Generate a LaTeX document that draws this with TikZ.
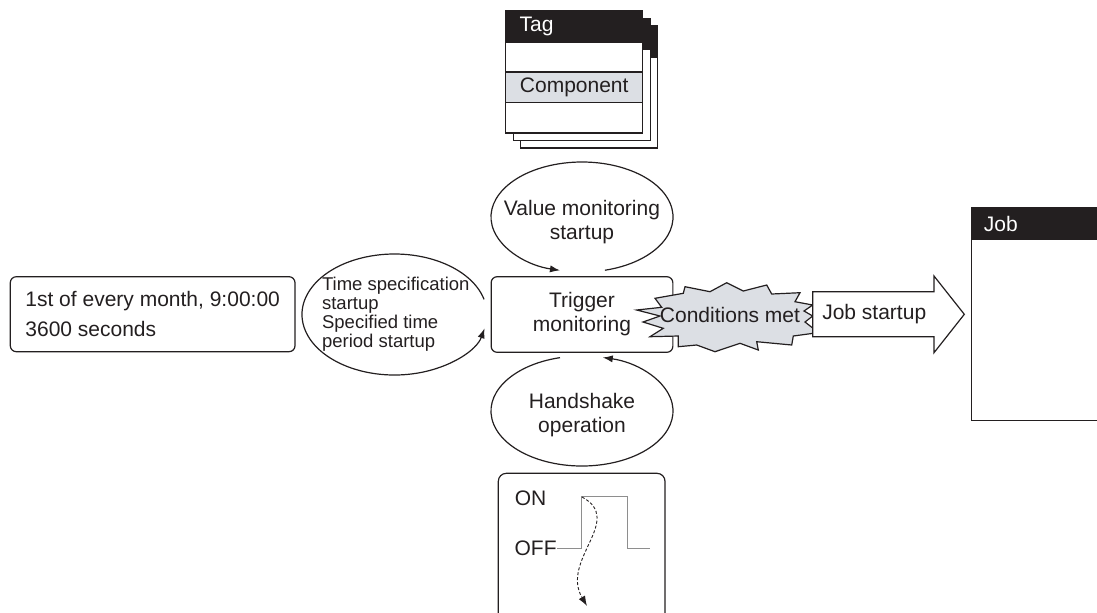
\documentclass[tikz,border=0pt]{standalone}
\usepackage{fontspec}
\setmainfont{Liberation Sans}
\usetikzlibrary{arrows.meta}
\definecolor{ink}{HTML}{231F20}
\definecolor{paleblue}{HTML}{DCDFE4}
\definecolor{wavegray}{HTML}{8E8E8E}
\tikzset{
  lbl/.style={inner sep=0pt, font=\fontsize{10.5}{12}\selectfont},
  small/.style={inner sep=0pt, font=\fontsize{9.25}{9.5}\selectfont},
  box/.style={draw=ink, rounded corners=3pt},
}
\begin{document}
\begin{tikzpicture}[x=0.5pt, y=0.5pt, line width=0.6pt, color=ink, >={Latex[length=5pt,width=3.6pt]}]
            \useasboundingbox (0,0) rectangle (1097,-612);

            \foreach \d in {15,7.5,0} {
                    \draw[fill=white] (505.7+\d,-11-\d) rectangle ++(137,-122);
                    \draw[fill=ink] (505.7+\d,-11-\d) rectangle ++(137,-31);
                }
            \draw[fill=paleblue] (505.7,-72) rectangle (642.7,-102.5);
            \node[lbl, text=white, anchor=west] (tag) at (519,-26.5) {Tag};
            \node[lbl] (component) at (574.2,-87) {Component};

            \coordinate (vc) at (582,-217);
            \draw[->] (vc) ++(284.6:91 and 55) arc[start angle=284.6, end angle=616, x radius=91, y radius=55];
            \node[lbl, align=center] (value) at (582,-222) {Value monitoring\\startup};

            \node[box, lbl, minimum width=90.85pt, minimum height=37.8pt, align=center] (trigger) at (582,-314.5) {Trigger\\monitoring};

            \coordinate (tc) at (394.5,-314.5);
            \draw[->] (tc) ++(14.5:92.5 and 60.5) arc[start angle=14.5, end angle=346.8, x radius=92.5, y radius=60.5];
            \node[small, align=left, anchor=west] (timespec) at (321.5,-314.5) {Time specification\\startup\\Specified time\\period startup};

            \coordinate (hc) at (582,-411);
            \draw[->] (hc) ++(104:91 and 55) arc[start angle=104, end angle=436.8, x radius=91, y radius=55];
            \node[lbl, align=center] (handshake) at (582,-415) {Handshake\\operation};

            \node[box, lbl, font=\fontsize{10.5}{15}\selectfont, align=left, minimum width=142.35pt, minimum height=37.5pt] (schedule) at (152.65,-314.2) {1st of every month, 9:00:00\\3600 seconds};

            \draw[fill=paleblue] (636.7,-310) -- (661.7,-307.3) -- (655,-298.3) -- (683.3,-293.3) -- (685,-286.7)
                -- (710,-291.7) -- (726.7,-282.7) -- (743.3,-291) -- (766.7,-285) -- (771.7,-294)
                -- (800,-292.7) -- (795,-301.7) -- (812.7,-305) -- (804,-311) -- (812.7,-316)
                -- (805,-322) -- (812.7,-328) -- (813.3,-333.3) -- (793.3,-336) -- (791.7,-345)
                -- (756.7,-341.7) -- (758.3,-350) -- (740,-343.3) -- (715,-351.7) -- (696.7,-345)
                -- (678.3,-346.7) -- (678.3,-336) -- (650,-336.7) -- (663.3,-328.3) -- (643,-322)
                -- (660,-316) -- cycle;
            \node[lbl] (conditions) at (730,-315) {Conditions met};

            \draw[fill=white] (812.7,-291.7) -- (934,-291.7) -- (934,-276) -- (964.3,-314.3)
                -- (934,-352.7) -- (934,-336.7) -- (812.7,-336.7) -- cycle;
            \node[lbl, anchor=west] (jobstartup) at (821.7,-314.3) {Job startup};

            \draw[fill=white] (971.7,-207.7) rectangle (1110,-420.7);
            \draw[fill=ink] (971.7,-207.7) rectangle (1110,-239.3);
            \node[lbl, text=white, anchor=west] (job) at (983.3,-223.5) {Job};

            \draw[rounded corners=4pt] (498.3,-630) -- (498.3,-473.3) -- (665,-473.3) -- (665,-630);
            \node[lbl, anchor=west] (on) at (514.3,-498.3) {ON};
            \node[lbl, anchor=west] (off) at (514,-548.3) {OFF};
            \draw[wavegray, line width=0.5pt] (off.east) -- (581.7,-548.3) -- (581.7,-496) -- (627.3,-496) -- (627.3,-548.3) -- (650,-548.3);
            \draw[->, line width=0.45pt, dash pattern=on 1.5pt off 1pt] (582,-497) .. controls (625,-520) and (560,-560) .. (587,-606);
        \end{tikzpicture}
\end{document}
